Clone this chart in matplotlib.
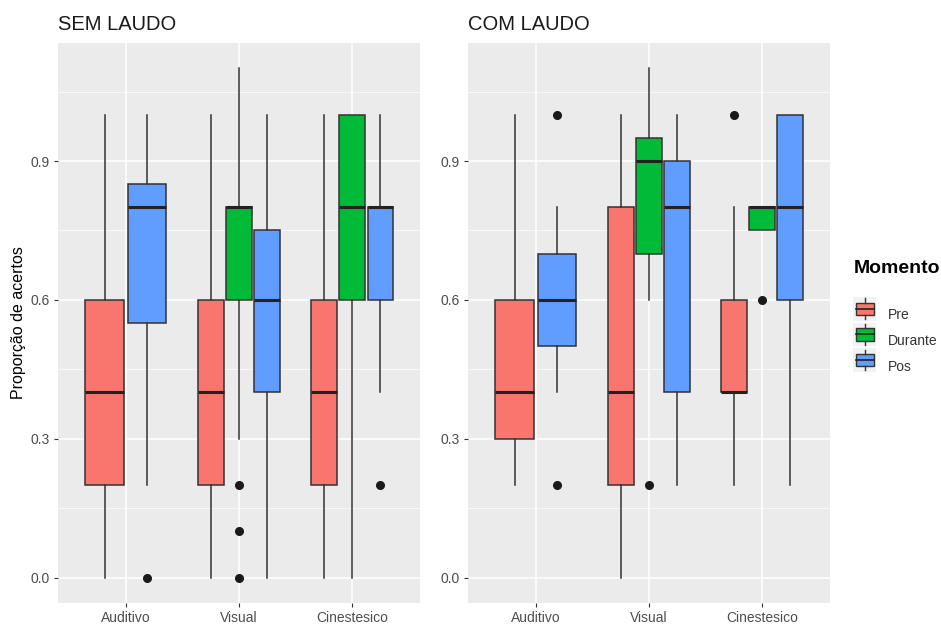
import matplotlib
matplotlib.use("Agg")
import matplotlib.pyplot as plt
from matplotlib.patches import Rectangle
from matplotlib.lines import Line2D
from matplotlib.legend_handler import HandlerBase

plt.rcParams["font.family"] = ["Liberation Sans", "DejaVu Sans"]

# Data: whislo, q1, median, q3, whishi, fliers
categorias = ["Auditivo", "Visual", "Cinestesico"]
momentos = ["Pre", "Durante", "Pos"]
cores = {"Pre": "#F8766D", "Durante": "#00BA38", "Pos": "#619CFF"}

sem_laudo = {
    "Auditivo": {"Pre": [0.0, 0.2, 0.4, 0.6, 1.0, []],
                 "Pos": [0.2, 0.55, 0.8, 0.85, 1.0, [0.0]]},
    "Visual": {"Pre": [0.0, 0.2, 0.4, 0.6, 1.0, []],
               "Durante": [0.3, 0.6, 0.8, 0.8, 1.1, [0.2, 0.1, 0.0]],
               "Pos": [0.0, 0.4, 0.6, 0.75, 1.0, []]},
    "Cinestesico": {"Pre": [0.0, 0.2, 0.4, 0.6, 1.0, []],
                    "Durante": [0.0, 0.6, 0.8, 1.0, 1.0, []],
                    "Pos": [0.4, 0.6, 0.8, 0.8, 1.0, [0.2]]},
}
com_laudo = {
    "Auditivo": {"Pre": [0.2, 0.3, 0.4, 0.6, 1.0, []],
                 "Pos": [0.4, 0.5, 0.6, 0.7, 0.8, [1.0, 0.2]]},
    "Visual": {"Pre": [0.0, 0.2, 0.4, 0.8, 1.0, []],
               "Durante": [0.6, 0.7, 0.9, 0.95, 1.1, [0.2]],
               "Pos": [0.2, 0.4, 0.8, 0.9, 1.0, []]},
    "Cinestesico": {"Pre": [0.2, 0.4, 0.4, 0.6, 0.8, [1.0]],
                    "Durante": [0.75, 0.75, 0.8, 0.8, 0.8, [0.6]],
                    "Pos": [0.2, 0.6, 0.8, 1.0, 1.0, []]},
}
paineis = [("SEM LAUDO", sem_laudo), ("COM LAUDO", com_laudo)]
yticks = [0.0, 0.3, 0.6, 0.9]

fig = plt.figure(figsize=(9.41, 6.37), dpi=100)
fig.patch.set_facecolor("white")

lefts = [0.0616, 0.4973]
for (titulo, dados), left in zip(paineis, lefts):
    ax = fig.add_axes([left, 0.0534, 0.3847, 0.8791])
    ax.set_facecolor("#EBEBEB")
    for i, cat in enumerate(categorias):
        grupos = [m for m in momentos if m in dados[cat]]
        n = len(grupos)
        slot = 0.75 / n
        for j, m in enumerate(grupos):
            lo, q1, med, q3, hi, fl = dados[cat][m]
            pos = i + 1 - 0.375 + slot * (j + 0.5)
            stats = [{"whislo": lo, "q1": q1, "med": med, "q3": q3,
                      "whishi": hi, "fliers": fl}]
            ax.bxp(stats, positions=[pos], widths=slot * 0.91,
                   patch_artist=True, showcaps=False, manage_ticks=False,
                   boxprops=dict(facecolor=cores[m], edgecolor="#333333", linewidth=1.1),
                   medianprops=dict(color="#222222", linewidth=2.2),
                   whiskerprops=dict(color="#333333", linewidth=1.1),
                   flierprops=dict(marker="o", markerfacecolor="#1a1a1a",
                                   markeredgecolor="#1a1a1a", markersize=5.5),
                   zorder=3)
    ax.set_xlim(0.4, 3.6)
    ax.set_ylim(-0.055, 1.155)
    ax.set_xticks([1, 2, 3])
    ax.set_xticklabels(categorias)
    ax.set_yticks(yticks)
    ax.set_yticklabels([f"{v:.1f}" for v in yticks])
    ax.set_yticks([0.15, 0.45, 0.75, 1.05], minor=True)
    ax.grid(which="major", color="white", linewidth=1.1, zorder=0)
    ax.grid(which="minor", axis="y", color="white", linewidth=0.5, zorder=0)
    ax.set_axisbelow(True)
    for s in ax.spines.values():
        s.set_visible(False)
    ax.tick_params(which="major", length=3, color="#333333", labelcolor="#4D4D4D",
                   labelsize=10, pad=3)
    ax.tick_params(which="minor", length=0)
    ax.set_title(titulo, loc="left", fontsize=14.5, pad=9, color="#1a1a1a")
    if left == lefts[0]:
        ax.set_ylabel("Proporção de acertos", fontsize=11.5, labelpad=3)


class BoxKey(HandlerBase):
    def create_artists(self, legend, orig, xd, yd, w, h, fs, trans):
        bg = Rectangle((xd - 1, yd - 3), w + 2, h + 6, facecolor="#F2F2F2",
                       edgecolor="none", transform=trans)
        box = Rectangle((xd + 1, yd + 0.1 * h), w - 2, 0.8 * h,
                        facecolor=orig.get_facecolor(), edgecolor="#333333",
                        linewidth=1.0, transform=trans)
        mid = Line2D([xd + 1, xd + w - 1], [yd + h / 2, yd + h / 2],
                     color="#222222", linewidth=1.2, transform=trans)
        top = Line2D([xd + w / 2, xd + w / 2], [yd + 0.9 * h, yd + h + 2],
                     color="#333333", linewidth=1.0, transform=trans)
        bot = Line2D([xd + w / 2, xd + w / 2], [yd - 2, yd + 0.1 * h],
                     color="#333333", linewidth=1.0, transform=trans)
        return [bg, box, mid, top, bot]


handles = [Rectangle((0, 0), 1, 1, facecolor=cores[m]) for m in momentos]
leg = fig.legend(handles, momentos, handler_map={Rectangle: BoxKey()},
                 loc="upper left", bbox_to_anchor=(0.896, 0.61),
                 frameon=False, title="Momento", fontsize=10,
                 handlelength=1.5, handleheight=1.3, labelspacing=0.75,
                 handletextpad=0.9, borderpad=0.3,
                 title_fontproperties={"weight": "bold", "size": 14})
leg._legend_box.align = "left"
leg._legend_box.sep = 22
for t in leg.get_texts():
    t.set_color("#333333")

fig.savefig("out.png", dpi=100)
